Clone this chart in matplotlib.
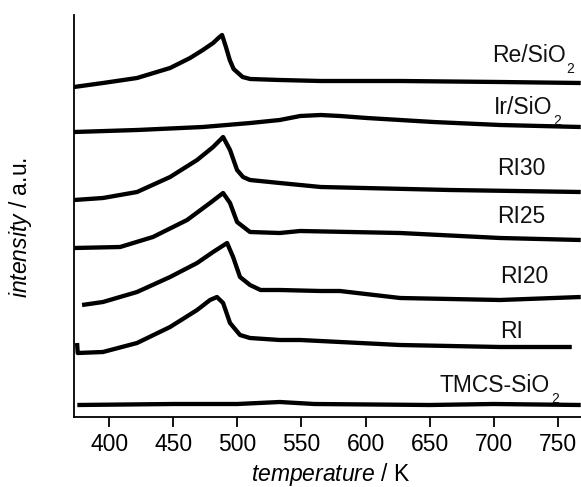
import matplotlib
matplotlib.use("Agg")
import matplotlib.pyplot as plt

plt.rcParams['font.family'] = ['Liberation Sans', 'DejaVu Sans']
plt.rcParams['mathtext.fontset'] = 'custom'
plt.rcParams['mathtext.rm'] = 'Liberation Sans'
plt.rcParams['mathtext.it'] = 'Liberation Sans:italic'

# ---- data (temperature in K, intensity in a.u., curves stacked with offsets) ----
re_T = [372.4, 395, 421.6, 447.4, 463, 473, 481, 486, 488, 491, 494, 497, 504, 510, 533, 565, 627, 705, 768]
re_I = [330, 334, 339, 349, 359, 367, 374, 380, 382, 370, 357, 348, 340, 338, 337, 336, 336, 335, 334]

ir_T = [372.4, 421.6, 473, 510, 533, 549, 565, 580, 601, 653, 705, 768]
ir_I = [285, 287, 290, 294, 297, 301, 302, 301, 299, 295, 292, 290]

ri30_T = [372.4, 395, 421.6, 447.4, 468.5, 481, 488.8, 494.2, 499.7, 504.4, 509.8, 533, 549, 565, 666, 768]
ri30_I = [217, 219, 225, 240, 257, 270, 280, 267, 247, 240, 237, 234, 232, 230, 227, 225]

ri25_T = [372.4, 408.4, 434, 460.7, 478.6, 488.8, 494.2, 499.7, 509.8, 533, 549, 627, 705, 768]
ri25_I = [169, 170, 180, 197, 214, 224, 214, 195, 185, 184, 186, 184, 179, 177]

ri20_T = [378.7, 395, 421.6, 447.4, 468.5, 481, 491.9, 496.6, 502, 509.8, 518, 533, 565, 580, 627, 705, 768]
ri20_I = [112, 115, 125, 140, 154, 165, 174, 160, 140, 132, 127, 127, 126, 126, 119, 117, 120]

ri_T = [374.8, 375.3, 395, 421.6, 447.4, 468.5, 478.6, 484, 488.8, 494.2, 502, 509.8, 533, 549, 627, 705, 761]
ri_I = [74, 64, 65, 74, 90, 107, 117, 120, 114, 94, 82, 79, 77, 77, 72, 70, 70]

tmcs_T = [375, 450, 500, 533, 560, 650, 700, 768]
tmcs_I = [12, 13, 13, 15, 13, 12, 13, 12]

curve_T = [re_T, ir_T, ri30_T, ri25_T, ri20_T, ri_T, tmcs_T]
curve_I = [re_I, ir_I, ri30_I, ri25_I, ri20_I, ri_I, tmcs_I]
names = ["Re/SiO", "Ir/SiO", "RI30", "RI25", "RI20", "RI", "TMCS-SiO"]
subscripts = ["2", "2", "", "", "", "", "2"]

# label anchor (temperature, intensity) for each curve label
label_pos = [(698.5, 355), (699.8, 303), (702.4, 242), (702.7, 194), (705, 134), (705, 79), (658.1, 25)]

xticks = [400, 450, 500, 550, 600, 650, 700, 750]

W, H = 581, 487
fig = plt.figure(figsize=(W / 100, H / 100), dpi=100)
ax = fig.add_axes([74 / W, (487 - 417) / H, 1 - 74 / W, (417 - 15) / H])

for T, I in zip(curve_T, curve_I):
    ax.plot(T, I, color='black', lw=3.1, solid_joinstyle='round', solid_capstyle='butt')

ax.set_xlim(372.4, 768.2)
ax.set_ylim(0, 402)
ax.set_xticks(xticks)
ax.set_yticks([])
ax.tick_params(axis='x', direction='out', length=7.5, width=1.3, labelsize=16.5, pad=4)
for s in ['top', 'right']:
    ax.spines[s].set_visible(False)
for s in ['left', 'bottom']:
    ax.spines[s].set_linewidth(1.3)

renderer = fig.canvas.get_renderer()
for name, sub, (lx, ly) in zip(names, subscripts, label_pos):
    t = ax.text(lx, ly, name, fontsize=16.5, ha='left', va='baseline', color='#111111')
    if sub:
        bb = t.get_window_extent(renderer)
        base_y = ax.transData.transform((lx, ly))[1]
        fig.text(bb.x1 + 1, base_y - 11, sub, transform=None, fontsize=10,
                 ha='left', va='baseline', color='#111111')

fig.text(331 / W, 1 - 481 / H, r"$\it{temperature}$ / K", fontsize=16.5, ha='center', va='baseline')
fig.text(21 / W, 1 - 227 / H, r"$\it{intensity}$ / a.u.", fontsize=16.5, ha='center', va='center', rotation=90)

fig.savefig("out.png", dpi=100)
